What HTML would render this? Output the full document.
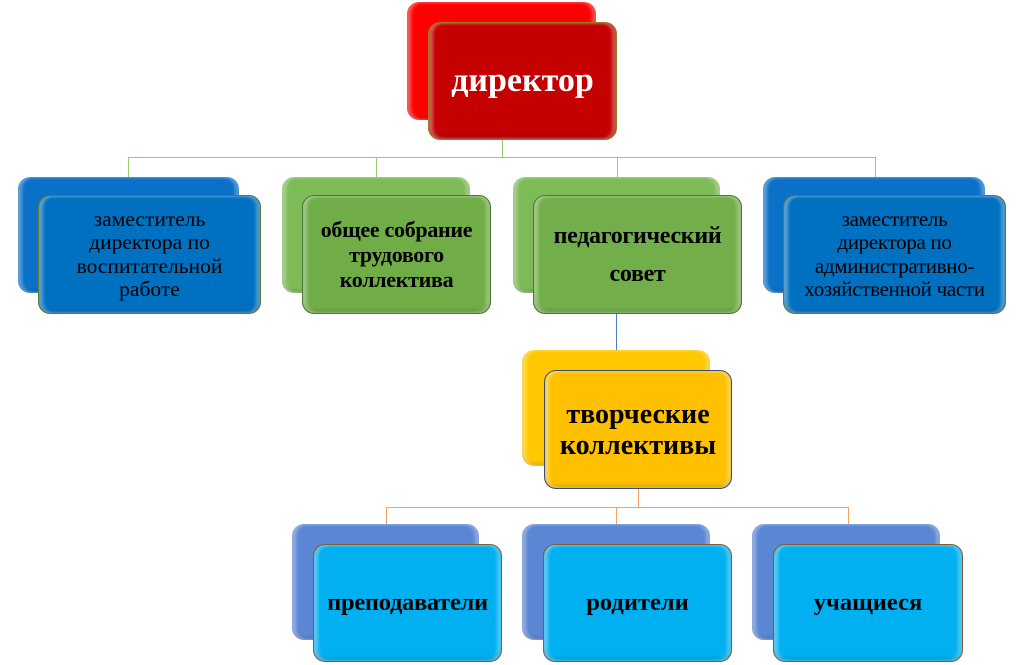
<!DOCTYPE html>
<html><head><meta charset="utf-8"><style>
body{margin:0;width:1024px;height:665px;background:#fff;position:relative;overflow:hidden;font-family:"Liberation Serif","Noto Serif CJK SC",serif}
.b{position:absolute;border-radius:12px;box-sizing:border-box;box-shadow:inset 4px 0 3px rgba(255,255,255,.35),inset -4px 0 3px rgba(255,255,255,.3),inset 0 -3px 3px rgba(0,0,0,.15)}
.f{display:flex;align-items:center;justify-content:center;text-align:center;color:#000;white-space:nowrap}
.l{position:absolute}
</style></head><body>
<div class="l" style="left:502px;top:140px;width:1px;height:17px;background:#9bcb6b"></div>
<div class="l" style="left:128px;top:157px;width:748px;height:1px;background:#9bcb6b"></div>
<div class="l" style="left:128px;top:157px;width:1px;height:20px;background:#9bcb6b"></div>
<div class="l" style="left:376px;top:157px;width:1px;height:20px;background:#9bcb6b"></div>
<div class="l" style="left:617px;top:157px;width:1px;height:20px;background:#9bcb6b"></div>
<div class="l" style="left:875px;top:157px;width:1px;height:20px;background:#9bcb6b"></div>
<div class="l" style="left:616px;top:300px;width:1px;height:52px;background:#4a7ad0"></div>
<div class="l" style="left:638px;top:489px;width:1px;height:18px;background:#f3a060"></div>
<div class="l" style="left:386px;top:507px;width:463px;height:1px;background:#f3a060"></div>
<div class="l" style="left:386px;top:507px;width:1px;height:18px;background:#f3a060"></div>
<div class="l" style="left:616px;top:507px;width:1px;height:18px;background:#f3a060"></div>
<div class="l" style="left:848px;top:507px;width:1px;height:18px;background:#f3a060"></div>

<div class="b" style="left:407px;top:2px;width:189px;height:118px;background:#ff0000"></div>
<div class="b f" style="left:428px;top:22px;width:189px;height:118px;background:#c40000;border:1px solid #9a7a20;color:#fff;font-weight:bold;font-size:34px">директор</div>

<div class="b" style="left:18px;top:177px;width:221px;height:116px;background:#0a70c8"></div>
<div class="b f" style="left:38px;top:195px;width:223px;height:119px;background:#0070c0;border:1px solid #5a7a3a;font-size:21.5px;line-height:23.5px">заместитель<br>директора по<br>воспитательной<br>работе</div>

<div class="b" style="left:282px;top:177px;width:188px;height:116px;background:#7dbb57"></div>
<div class="b f" style="left:302px;top:195px;width:189px;height:119px;background:#70ad47;border:1px solid #4a7a30;font-size:22px;font-weight:bold;line-height:25px;letter-spacing:-0.3px">общее собрание<br>трудового<br>коллектива</div>

<div class="b" style="left:513px;top:177px;width:207px;height:116px;background:#7dbb57"></div>
<div class="b f" style="left:533px;top:195px;width:209px;height:119px;background:#72ae4a;border:1px solid #4a7a30;font-size:24px;font-weight:bold;line-height:38px;letter-spacing:-0.3px">педагогический<br>совет</div>

<div class="b" style="left:763px;top:177px;width:222px;height:116px;background:#0a70c8"></div>
<div class="b f" style="left:783px;top:195px;width:223px;height:119px;background:#0070c0;border:1px solid #5a7a3a;font-size:21px;line-height:23.5px;letter-spacing:-0.3px">заместитель<br>директора по<br>административно-<br>хозяйственной части</div>

<div class="b" style="left:522px;top:350px;width:188px;height:116px;background:#ffc800"></div>
<div class="b f" style="left:544px;top:370px;width:188px;height:119px;background:#ffc000;border:1px solid #3a4a70;font-size:28px;font-weight:bold;line-height:31px">творческие<br>коллективы</div>

<div class="b" style="left:292px;top:524px;width:187px;height:116px;background:#5b86d3"></div>
<div class="b f" style="left:313px;top:544px;width:189px;height:118px;background:#00b0f0;border:1px solid #8a5a30;font-size:24.5px;font-weight:bold;letter-spacing:-0.3px">преподаватели</div>
<div class="b" style="left:522px;top:524px;width:188px;height:116px;background:#5b86d3"></div>
<div class="b f" style="left:543px;top:544px;width:189px;height:118px;background:#00b0f0;border:1px solid #8a5a30;font-size:24.5px;font-weight:bold">родители</div>
<div class="b" style="left:752px;top:524px;width:188px;height:116px;background:#5b86d3"></div>
<div class="b f" style="left:773px;top:544px;width:190px;height:118px;background:#00b0f0;border:1px solid #8a5a30;font-size:24.5px;font-weight:bold">учащиеся</div>
</body></html>
